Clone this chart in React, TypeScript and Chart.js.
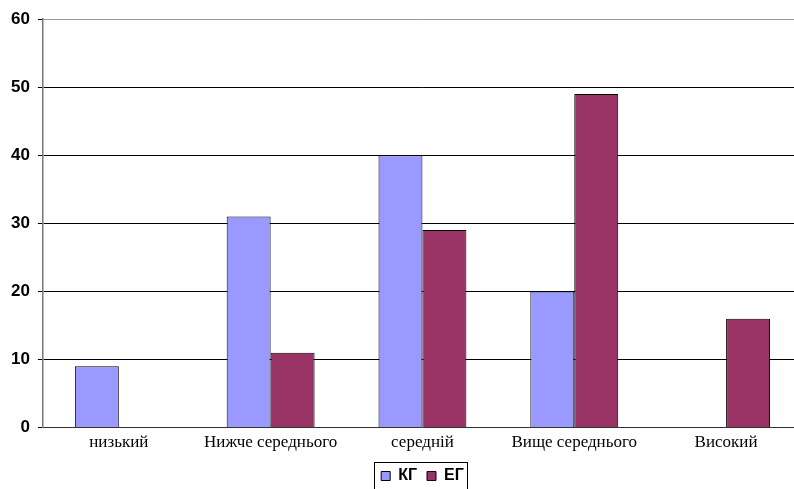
import React, { useEffect, useRef } from "react";
import { Chart, registerables } from "chart.js";

Chart.register(...registerables);

const categories = ["низький", "Нижче середнього", "середній", "Вище середнього", "Високий"];
const seriesKG = [9, 31, 40, 20, 0];
const seriesEG = [0, 11, 29, 49, 16];
const seriesNames = ["КГ", "ЕГ"];
const yTicks = [0, 10, 20, 30, 40, 50, 60];

const legendBoxPlugin = {
  id: "legendBox",
  afterDraw(chart: any) {
    const legend = chart.legend;
    if (!legend || !legend.legendHitBoxes || !legend.legendHitBoxes.length) return;
    const boxes = legend.legendHitBoxes;
    let l = Infinity, r = -Infinity, t = Infinity;
    for (const b of boxes) {
      l = Math.min(l, b.left);
      r = Math.max(r, b.left + b.width);
      t = Math.min(t, b.top);
    }
    const ctx = chart.ctx;
    ctx.save();
    ctx.strokeStyle = "#000";
    ctx.lineWidth = 1;
    ctx.strokeRect(Math.round(l - 7) + 0.5, Math.round(t - 6) + 0.5, Math.round(r - l + 10), chart.height);
    ctx.restore();
  },
};

export default function App() {
  const ref = useRef<HTMLCanvasElement | null>(null);
  useEffect(() => {
    if (!ref.current) return;
    const chart = new Chart(ref.current, {
      type: "bar",
      data: {
        labels: categories,
        datasets: [
          {
            label: seriesNames[0],
            data: seriesKG,
            backgroundColor: "#9999FF",
            borderColor: "#000000",
            borderWidth: 1,
            borderSkipped: "bottom",
          },
          {
            label: seriesNames[1],
            data: seriesEG,
            backgroundColor: "#993366",
            borderColor: "#000000",
            borderWidth: 1,
            borderSkipped: "bottom",
          },
        ],
      },
      options: {
        animation: false,
        responsive: false,
        devicePixelRatio: 1,
        layout: { padding: { top: 19, right: 0, left: 3, bottom: -5 } },
        datasets: { bar: { categoryPercentage: 0.579, barPercentage: 1 } },
        scales: {
          x: {
            grid: { display: false, drawTicks: false },
            border: { display: true, color: "#333333", width: 1 },
            ticks: {
              color: "#000",
              padding: 5,
              font: { family: "'Liberation Serif', 'Times New Roman', serif", size: 17 },
            },
          },
          y: {
            min: 0,
            max: 60,
            afterBuildTicks(axis: any) {
              axis.ticks = yTicks.map((v) => ({ value: v }));
            },
            grid: {
              color: (c: any) => (c.tick && c.tick.value === 60 ? "#9a9a9a" : c.tick && c.tick.value === 0 ? "rgba(0,0,0,0)" : "#000"),
              tickColor: "#000",
              tickLength: 5,
              lineWidth: 1,
            },
            border: { display: true, color: "#777777", width: 1.5 },
            ticks: {
              color: "#000",
              padding: 8,
              font: { family: "'Liberation Sans', Arial, sans-serif", size: 17, weight: "bold" },
            },
          },
        },
        plugins: {
          legend: {
            position: "bottom",
            fullSize: false,
            labels: {
              color: "#000",
              boxWidth: 9,
              boxHeight: 9,
              padding: 10,
              font: { family: "'Liberation Sans', Arial, sans-serif", size: 16, weight: "bold" },
            },
          },
          tooltip: { enabled: false },
        },
      },
      plugins: [legendBoxPlugin],
    } as any);
    return () => chart.destroy();
  }, []);
  return (
    <div style={{ position: "absolute", left: 0, top: 0, width: 794, height: 489, background: "#fff", overflow: "hidden" }}>
      <canvas ref={ref} width={802} height={489} />
    </div>
  );
}
